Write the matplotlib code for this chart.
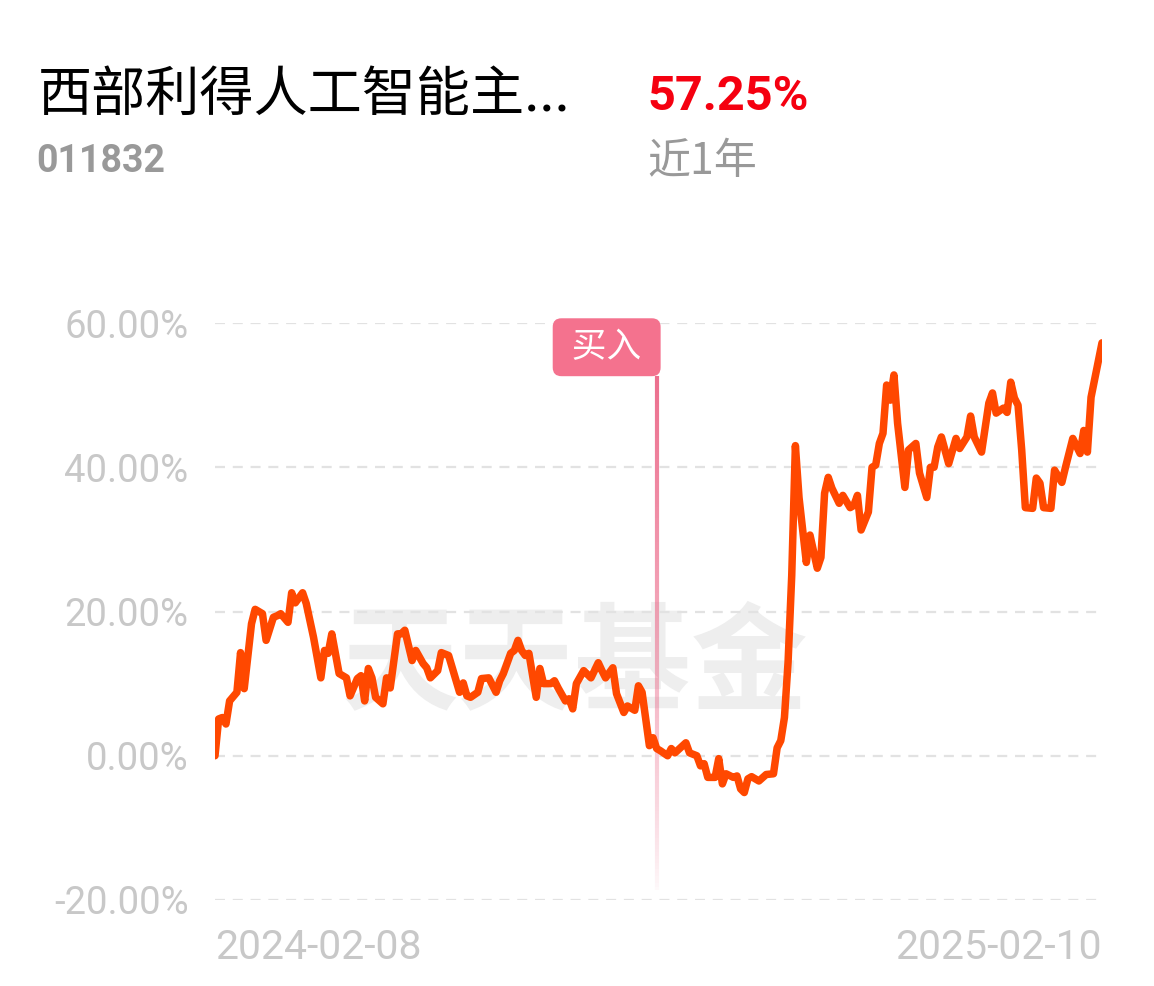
import numpy as np
import matplotlib
matplotlib.use("Agg")
import matplotlib.pyplot as plt
import matplotlib.transforms as mtransforms
from matplotlib.collections import LineCollection

plt.rcParams['font.family'] = ['Roboto', 'Noto Sans CJK SC']

# 基金信息
fund_name = "西部利得人工智能主..."
fund_code = "011832"
period_return = "57.25%"
period_label = "近1年"
date_labels = ["2024-02-08", "2025-02-10"]
buy_day = 121
buy_label = " 买入 "
watermark = "天天基金"

# 交易日序号 / 累计收益率(%)
days = [0, 1, 2, 3, 4, 6, 7, 8, 10, 11, 13, 14, 16, 17, 18, 20, 21, 22, 24, 25,
        27, 29, 30, 31, 32, 34, 36, 37, 39, 40, 41, 42, 43, 44, 46, 47, 48, 50, 51, 52,
        54, 55, 57, 58, 59, 61, 62, 64, 67, 68, 69, 70, 72, 73, 75, 77, 78, 79, 81, 82,
        83, 84, 85, 86, 88, 89, 90, 92, 93, 94, 96, 97, 98, 99, 101, 103, 105, 106, 107, 109,
        110, 112, 113, 115, 116, 117, 119, 120, 121, 122, 124, 125, 126, 129, 130, 132, 133, 134, 135, 137,
        138, 139, 140, 142, 143, 144, 145, 146, 147, 148, 149, 151, 153, 154, 155, 156, 157, 158, 159, 160,
        162, 163, 165, 166, 167, 168, 169, 171, 172, 174, 175, 176, 177, 179, 180, 181, 182, 183, 184, 185,
        186, 187, 189, 190, 192, 193, 195, 196, 197, 198, 199, 201, 203, 204, 206, 207, 208, 210, 212, 213,
        214, 216, 217, 218, 219, 220, 221, 222, 224, 225, 226, 227, 229, 230, 232, 233, 235, 237, 238, 239,
        240, 243]
returns = [0.0, 5.1, 5.3, 4.4, 7.6, 8.8, 14.3, 9.3, 18.3, 20.3, 19.7, 16.0, 19.2, 19.4, 19.7, 18.5, 22.6, 21.2, 22.6, 21.1,
           16.4, 10.8, 14.6, 14.2, 16.9, 11.4, 10.8, 8.3, 10.7, 11.1, 7.6, 12.1, 10.8, 8.1, 7.2, 10.8, 9.4, 16.9, 16.9, 17.4,
           13.2, 14.6, 12.8, 12.2, 10.8, 11.8, 14.3, 13.9, 8.8, 10.1, 8.3, 8.1, 8.8, 10.7, 10.8, 8.8, 10.4, 11.4, 14.2, 14.6,
           16.0, 14.6, 13.9, 14.2, 8.1, 12.1, 10.0, 10.0, 10.4, 9.4, 7.6, 7.9, 6.5, 10.0, 11.8, 10.8, 12.9, 11.8, 10.8, 12.2,
           8.6, 6.0, 6.9, 6.3, 9.7, 8.8, 1.4, 2.5, 1.0, 0.7, 0.0, 1.0, 0.4, 1.8, 0.4, 0.0, -1.4, -1.1, -3.0, -3.0,
           -0.4, -3.9, -2.5, -3.0, -2.8, -4.6, -5.1, -3.2, -2.9, -3.2, -3.5, -2.6, -2.5, 1.1, 2.1, 5.3, 13.0, 25.0, 43.0, 35.8,
           26.8, 30.6, 26.0, 27.5, 36.4, 38.6, 37.1, 35.0, 36.1, 34.4, 34.7, 36.1, 31.3, 33.8, 40.0, 40.3, 43.3, 44.7, 51.4, 49.3,
           52.8, 46.1, 37.2, 42.4, 43.3, 39.2, 35.8, 40.0, 40.0, 42.8, 44.2, 40.5, 44.0, 42.6, 44.2, 47.1, 44.2, 42.1, 48.9, 50.3,
           47.5, 48.2, 47.6, 51.8, 49.6, 48.6, 42.4, 34.4, 34.3, 38.5, 37.8, 34.4, 34.3, 39.6, 37.9, 40.0, 44.0, 41.9, 45.1, 42.1,
           49.7, 57.25]
y_ticks = [-20, 0, 20, 40, 60]

W, H = 1154, 986
fig = plt.figure(figsize=(W / 100, H / 100), dpi=100)
fig.patch.set_facecolor('white')
ax = fig.add_axes([215 / W, 86 / H, 887 / W, 577 / H])

# 网格
ax.set_ylim(-20, 60)
ax.set_xlim(days[0], days[-1])
ax.set_yticks(y_ticks)
ax.set_yticklabels([f"{v:.2f}%" for v in y_ticks])
ax.yaxis.grid(True, color='#e2e2e2', linewidth=1.6, linestyle=(0, (4.5, 3.5)))
ax.xaxis.grid(False)
for s in ax.spines.values():
    s.set_visible(False)
ax.tick_params(axis='y', length=0, pad=19, labelsize=27.5, labelcolor='#c8c8c8')
ax.tick_params(axis='x', length=0, pad=20, labelsize=29.5, labelcolor='#c8c8c8')
ax.set_xticks([days[0], days[-1]])
ax.set_xticklabels(date_labels)
xl = ax.get_xticklabels()
xl[0].set_ha('left')
xl[-1].set_ha('right')

# 水印
ax.text(0.406, 0.405, watermark, transform=ax.transAxes, ha='center', va='center',
        fontsize=84, color='#eeeeee', fontweight='bold', family=['Noto Sans CJK SC'], zorder=0)

# 买入标记 (渐变竖线)
trans = mtransforms.blended_transform_factory(ax.transData, ax.transAxes)
ys = np.linspace(0.908, 0.017, 150)
segs = [[(buy_day, ys[i]), (buy_day, ys[i + 1])] for i in range(len(ys) - 1)]
t = np.linspace(0, 1, len(segs))
alphas = 0.9 * (1 - t) ** 0.8 + 0.04
cols = [(0.92, 0.40, 0.53, min(a, 1.0)) for a in alphas]
lc = LineCollection(segs, colors=cols, linewidths=3.0, transform=trans, zorder=1)
ax.add_collection(lc)

# 收益曲线
ax.plot(days, returns, color='#ff4800', linewidth=5.4, solid_joinstyle='round',
        solid_capstyle='round', zorder=3)

ax.annotate(buy_label, xy=(buy_day, 0.958), xycoords=trans, xytext=(-5.4, 0),
            textcoords='offset points', ha='right', va='center', fontsize=25, color='white',
            family=['Noto Sans CJK SC'], annotation_clip=False, zorder=5,
            bbox=dict(boxstyle='round,pad=0.33,rounding_size=0.25', fc='#f4728e', ec='none'))

# 标题区域
fig.text(38 / W, 1 - 95 / H, fund_name, fontsize=39, color='black', ha='left', va='center',
         family=['Noto Sans CJK SC'])
fig.text(36 / W, 1 - 161 / H, fund_code, fontsize=27, color='#999999', ha='left', va='center',
         fontweight='bold')
fig.text(647 / W, 1 - 97 / H, period_return, fontsize=35, color='#f50010', ha='left', va='center',
         fontweight='bold')
fig.text(647 / W, 1 - 162 / H, period_label, fontsize=31, color='#999999', ha='left', va='center',
         family=['Noto Sans CJK SC'])

fig.savefig('out.png', dpi=100, facecolor='white')
